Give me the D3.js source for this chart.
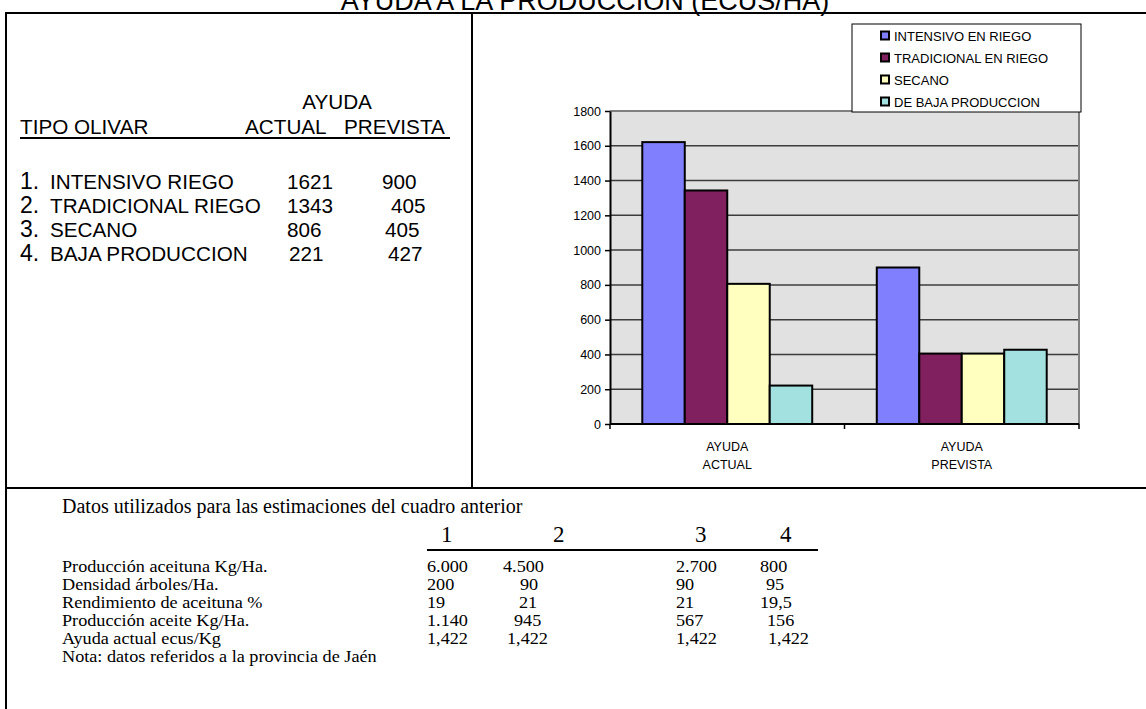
<!DOCTYPE html>
<html>
<head>
<meta charset="utf-8">
<script src="https://cdn.jsdelivr.net/npm/d3@7"></script>
<style>
  html, body { margin: 0; padding: 0; background: #fff; }
  svg { display: block; }
  .sans { font-family: "Liberation Sans", Arial, sans-serif; }
  .serif { font-family: "Liberation Serif", "Times New Roman", serif; }
</style>
</head>
<body>
<svg id="chart" width="1146" height="709"></svg>
<script>
// ---- data ----
const titleText = "AYUDA A LA PRODUCCION (ECUS/HA)";
const categories = ["AYUDA ACTUAL", "AYUDA PREVISTA"];
const categoryLines = [["AYUDA", "ACTUAL"], ["AYUDA", "PREVISTA"]];
const seriesNames = ["INTENSIVO EN RIEGO", "TRADICIONAL EN RIEGO", "SECANO", "DE BAJA PRODUCCION"];
const seriesColors = ["#8080ff", "#80205f", "#ffffc0", "#a3e0e0"];
const ayudaActual = [1621, 1343, 806, 221];
const ayudaPrevista = [900, 405, 405, 427];
const yTicks = [0, 200, 400, 600, 800, 1000, 1200, 1400, 1600, 1800];

const tipoOlivar = ["INTENSIVO RIEGO", "TRADICIONAL RIEGO", "SECANO", "BAJA PRODUCCION"];

const datosTitulo = "Datos utilizados para las estimaciones del cuadro anterior";
const datosColumnas = ["1", "2", "3", "4"];
const datosFilas = ["Producción  aceituna Kg/Ha.", "Densidad árboles/Ha.", "Rendimiento de aceituna %",
                    "Producción aceite Kg/Ha.", "Ayuda actual ecus/Kg"];
const prodAceituna = ["6.000", "4.500", "2.700", "800"];
const densidadArboles = ["200", "90", "90", "95"];
const rendimiento = ["19", "21", "21", "19,5"];
const prodAceite = ["1.140", "945", "567", "156"];
const ayudaEcusKg = ["1,422", "1,422", "1,422", "1,422"];
const nota = "Nota: datos referidos a la provincia de Jaén";

// ---- frame ----
const svg = d3.select("#chart");
const frame = svg.append("g").attr("stroke", "#000").attr("stroke-width", 2);
frame.append("line").attr("x1", 6).attr("x2", 1146).attr("y1", 13).attr("y2", 13);
frame.append("line").attr("x1", 6).attr("x2", 6).attr("y1", 12).attr("y2", 709);
frame.append("line").attr("x1", 472).attr("x2", 472).attr("y1", 13).attr("y2", 488);
frame.append("line").attr("x1", 6).attr("x2", 1146).attr("y1", 488).attr("y2", 488);

svg.append("text").attr("class", "sans")
  .attr("x", 585).attr("y", 9.5).attr("text-anchor", "middle")
  .attr("font-size", 27).attr("fill", "#000").text(titleText);

// ---- left summary table ----
const lt = svg.append("g").attr("class", "sans").attr("fill", "#000");
const ltSize = 20.7;
lt.append("text").attr("x", 337).attr("y", 109).attr("text-anchor", "middle").attr("font-size", ltSize).text("AYUDA");
lt.append("text").attr("x", 20).attr("y", 134).attr("font-size", ltSize).text("TIPO OLIVAR");
lt.append("text").attr("x", 245).attr("y", 134).attr("font-size", ltSize).text("ACTUAL");
lt.append("text").attr("x", 344).attr("y", 134).attr("font-size", ltSize).text("PREVISTA");
lt.append("line").attr("x1", 20).attr("x2", 450).attr("y1", 138).attr("y2", 138)
  .attr("stroke", "#000").attr("stroke-width", 2);

const rowY = d3.scalePoint().domain(d3.range(tipoOlivar.length)).range([188.5, 260.5]);
const actualX = [287, 287, 287, 289];
const previstaX = [382, 391, 385, 388];
tipoOlivar.forEach((name, i) => {
  const t = lt.append("text").attr("x", 20).attr("y", rowY(i));
  t.append("tspan").attr("font-size", 23).text((i + 1) + ".");
  t.append("tspan").attr("font-size", ltSize).attr("x", 50).text(name);
  lt.append("text").attr("x", actualX[i]).attr("y", rowY(i)).attr("font-size", ltSize).text(ayudaActual[i]);
  lt.append("text").attr("x", previstaX[i]).attr("y", rowY(i)).attr("font-size", ltSize).text(ayudaPrevista[i]);
});

// ---- bar chart ----
const plot = { left: 610, right: 1079, top: 111, bottom: 424 };
const y = d3.scaleLinear().domain([0, 1800]).range([plot.bottom, plot.top]);
const x0 = d3.scaleBand().domain(categories).range([plot.left, plot.right]).padding(0);
const x1 = d3.scaleBand().domain(seriesNames).range([0, x0.bandwidth()]).paddingInner(0).paddingOuter(0.76);
const values = { [categories[0]]: ayudaActual, [categories[1]]: ayudaPrevista };

const chart = svg.append("g");
chart.append("rect").attr("x", plot.left).attr("y", plot.top)
  .attr("width", plot.right - plot.left).attr("height", plot.bottom - plot.top)
  .attr("fill", "#e1e1e1");

chart.append("g").selectAll("line").data(yTicks.filter(v => v > 0 && v < 1800)).join("line")
  .attr("x1", plot.left).attr("x2", plot.right)
  .attr("y1", d => y(d)).attr("y2", d => y(d))
  .attr("stroke", "#3c3c3c").attr("stroke-width", 1.5);

// plot border (top and right)
chart.append("path")
  .attr("d", `M${plot.left},${plot.top}H${plot.right}V${plot.bottom}`)
  .attr("fill", "none").attr("stroke", "#808080").attr("stroke-width", 2);

categories.forEach(cat => {
  chart.append("g").selectAll("rect").data(seriesNames).join("rect")
    .attr("x", s => x0(cat) + x1(s))
    .attr("y", (s, i) => y(values[cat][i]))
    .attr("width", x1.bandwidth())
    .attr("height", (s, i) => y(0) - y(values[cat][i]))
    .attr("fill", (s, i) => seriesColors[i])
    .attr("stroke", "#000").attr("stroke-width", 2);
});

const yAxis = chart.append("g").attr("transform", `translate(${plot.left},0)`)
  .call(d3.axisLeft(y).tickValues(yTicks).tickFormat(d3.format("d"))
    .tickSize(5).tickPadding(4).tickSizeOuter(0));
yAxis.select(".domain").attr("stroke", "#000").attr("stroke-width", 2);
yAxis.selectAll(".tick line").attr("stroke", "#000").attr("stroke-width", 1.5);
yAxis.selectAll(".tick text").attr("font-family", "Liberation Sans, Arial, sans-serif")
  .attr("font-size", 12.5).attr("fill", "#000");

const xAxis = chart.append("g").attr("transform", `translate(0,${plot.bottom})`);
xAxis.append("line").attr("x1", plot.left).attr("x2", plot.right).attr("stroke", "#000").attr("stroke-width", 2);
const xTickPos = categories.map(c => x0(c)).concat([plot.right]);
xAxis.selectAll("line.tk").data(xTickPos).join("line").attr("class", "tk")
  .attr("x1", d => d).attr("x2", d => d).attr("y1", 0).attr("y2", 5)
  .attr("stroke", "#000").attr("stroke-width", 1.5);
categories.forEach((cat, ci) => {
  const t = xAxis.append("text").attr("class", "sans").attr("font-size", 12.5)
    .attr("text-anchor", "middle").attr("fill", "#000");
  categoryLines[ci].forEach((ln, li) => {
    t.append("tspan").attr("x", x0(cat) + x0.bandwidth() / 2).attr("y", 27 + li * 17.5).text(ln);
  });
});

// legend
const legend = svg.append("g").attr("class", "sans");
legend.append("rect").attr("x", 852).attr("y", 24).attr("width", 229).attr("height", 88)
  .attr("fill", "#fff").attr("stroke", "#000").attr("stroke-width", 1);
const legY = d3.scalePoint().domain(seriesNames).range([40.5, 106.5]);
legend.selectAll("rect.sw").data(seriesNames).join("rect").attr("class", "sw")
  .attr("x", 881).attr("y", d => legY(d) - 9).attr("width", 8).attr("height", 8)
  .attr("fill", (d, i) => seriesColors[i]).attr("stroke", "#000").attr("stroke-width", 2);
legend.selectAll("text").data(seriesNames).join("text")
  .attr("x", 894).attr("y", d => legY(d)).attr("font-size", 13).attr("fill", "#000").text(d => d);

// ---- bottom data table ----
const bt = svg.append("g").attr("class", "serif").attr("fill", "#000");
bt.append("text").attr("x", 62).attr("y", 513).attr("font-size", 20).text(datosTitulo);
const headX = [441, 553, 695, 780];
datosColumnas.forEach((c, i) => {
  bt.append("text").attr("x", headX[i]).attr("y", 542).attr("font-size", 23).text(c);
});
bt.append("line").attr("x1", 427).attr("x2", 818).attr("y1", 550).attr("y2", 550)
  .attr("stroke", "#000").attr("stroke-width", 2);

// rows are set on an 18px pitch: glyphs are drawn a bit shorter and widened
// to the width the text would take at the nominal size
const rowNominal = 18.2, rowDrawn = 16.2;
function rowText(x, yPos, str) {
  const t = bt.append("text").attr("x", x).attr("y", yPos).attr("font-size", rowNominal).text(str);
  const w = t.node().getComputedTextLength();
  t.attr("font-size", rowDrawn).attr("textLength", w).attr("lengthAdjust", "spacingAndGlyphs");
  return t;
}

const tabla = [prodAceituna, densidadArboles, rendimiento, prodAceite, ayudaEcusKg];
const filaY = d3.scalePoint().domain(d3.range(tabla.length + 1)).range([572, 662]);
const colX = [427, 503, 676, 760];
const cellNudge = [
  [0, 0, 0, 0],
  [0, 17, 0, 6],
  [0, 16, 0, 0],
  [0, 11, 0, 7],
  [0, 4, 0, 8]
];
datosFilas.forEach((lbl, r) => {
  rowText(62, filaY(r), lbl);
  tabla[r].forEach((v, c) => rowText(colX[c] + cellNudge[r][c], filaY(r), v));
});
rowText(62, filaY(tabla.length), nota);
</script>
</body>
</html>
